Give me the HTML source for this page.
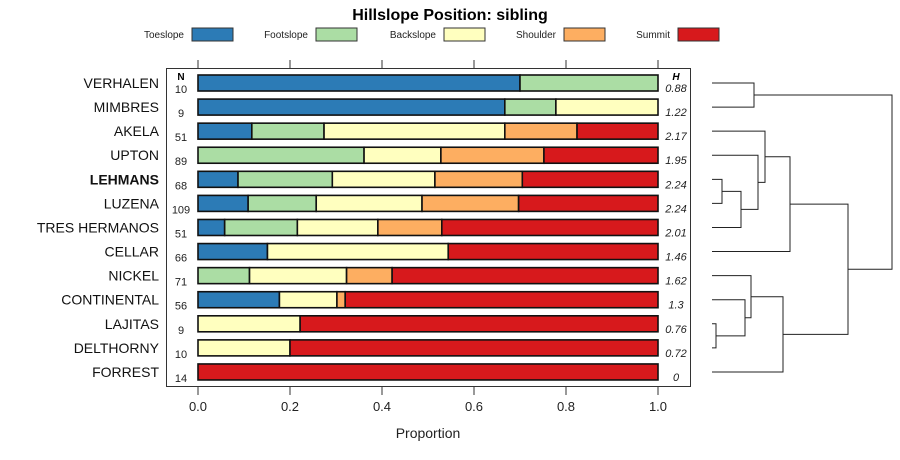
<!DOCTYPE html>
<html><head><meta charset="utf-8"><style>
body{margin:0;background:#fff}
svg{display:block;font-family:"Liberation Sans",sans-serif}
</style></head><body>
<svg id="chart" width="900" height="460"></svg>
<script>
const categories=["VERHALEN","MIMBRES","AKELA","UPTON","LEHMANS","LUZENA","TRES HERMANOS","CELLAR","NICKEL","CONTINENTAL","LAJITAS","DELTHORNY","FORREST"];
const seriesNames=["Toeslope","Footslope","Backslope","Shoulder","Summit"];
const colors=["#2C7BB6","#ABDDA4","#FFFFBF","#FDAE61","#D7191C"];
const toeslope=[0.70,0.667,0.117,0,0.087,0.109,0.058,0.151,0,0.177,0,0,0];
const footslope=[0.30,0.111,0.157,0.361,0.205,0.148,0.158,0,0.112,0,0,0,0];
const backslope=[0,0.222,0.393,0.167,0.223,0.230,0.175,0.393,0.211,0.125,0.222,0.2,0];
const shoulder=[0,0,0.157,0.224,0.190,0.210,0.139,0,0.099,0.018,0,0,0];
const summit=[0,0,0.176,0.248,0.295,0.303,0.470,0.456,0.578,0.680,0.778,0.8,1];
const nValues=["10","9","51","89","68","109","51","66","71","56","9","10","14"];
const hValues=["0.88","1.22","2.17","1.95","2.24","2.24","2.01","1.46","1.62","1.3","0.76","0.72","0"];
const xTicks=[0,0.2,0.4,0.6,0.8,1.0];
const xTickLabels=["0.0","0.2","0.4","0.6","0.8","1.0"];
// dendrogram merges: [childA, childB, height]; leaves are category indices, clusters are "c#"
const merges=[[4,5,0.10],[10,11,0.04],[0,1,0.42],["c0",6,0.29],["c1",9,0.33],["c4",8,0.39],["c3",3,0.46],["c6",2,0.53],["c5",12,0.71],["c7",7,0.78],["c9","c8",1.36],["c2","c10",1.80]];

const svg=document.getElementById('chart');
const NS='http://www.w3.org/2000/svg';
function mk(t,a,p){const e=document.createElementNS(NS,t);for(const k in a)e.setAttribute(k,a[k]);(p||svg).appendChild(e);return e;}
const x0=198,x1=658;
const xs=v=>x0+v*(x1-x0);
const yRow=i=>83+i*24.08;
const bh=16;

let t=mk('text',{x:450,y:20,'text-anchor':'middle','font-size':16,'font-weight':'bold'});t.textContent='Hillslope Position: sibling';



const legX=[192,316,444,564,678];
seriesNames.forEach((n,i)=>{
  const g=mk('g',{});
  
  
  const tx=mk('text',{x:legX[i]-8,y:38,'text-anchor':'end','font-size':10,fill:'#222'},g);tx.textContent=n;
  mk('rect',{x:legX[i],y:28,width:41,height:13,fill:colors[i],stroke:'#333','stroke-width':1},g);
});

// frame
const fr=mk('rect',{x:166.5,y:68.5,width:524,height:318,fill:'none',stroke:'#333','stroke-width':1});


xTicks.forEach((v,i)=>{
  const x=xs(v);
  mk('line',{x1:x,y1:60,x2:x,y2:68,stroke:'#333'});
  mk('line',{x1:x,y1:387,x2:x,y2:395,stroke:'#333'});
  const l=mk('text',{x:x,y:411,'text-anchor':'middle','font-size':13,fill:'#222'});l.textContent=xTickLabels[i];
  
  
});
t=mk('text',{x:428,y:438,'text-anchor':'middle','font-size':14,fill:'#222'});t.textContent='Proportion';



t=mk('text',{x:181,y:80,'text-anchor':'middle','font-size':10,'font-weight':'bold'});t.textContent='N';


t=mk('text',{x:676,y:80,'text-anchor':'middle','font-size':10,'font-weight':'bold','font-style':'italic'});t.textContent='H';



const series=[toeslope,footslope,backslope,shoulder,summit];
categories.forEach((c,i)=>{
  const y=yRow(i);
  const lab=mk('text',{x:159,y:y+5,'text-anchor':'end','font-size':14,fill:'#111','font-weight':c==='LEHMANS'?'bold':'normal'});lab.textContent=c;
  
  
  const n=mk('text',{x:181,y:y+10,'text-anchor':'middle','font-size':11,fill:'#222'});n.textContent=nValues[i];
  
  
  const h=mk('text',{x:676,y:y+9,'text-anchor':'middle','font-size':11,'font-style':'italic',fill:'#222'});h.textContent=hValues[i];
  
  
  let acc=0;
  series.forEach((s,k)=>{
    const v=s[i];if(v<=0)return;
    const r=mk('rect',{x:xs(acc),y:y-bh/2,width:xs(acc+v)-xs(acc),height:bh,fill:colors[k],stroke:'#111','stroke-width':1.6});
    
    
    acc+=v;
  });
});

// dendrogram
const dx0=712,dscale=(892-712)/1.80;
const nodes={};
categories.forEach((c,i)=>nodes[i]={y:yRow(i),h:0});
const dg=mk('g',{});


merges.forEach((m,j)=>{
  const a=nodes[m[0]],b=nodes[m[1]];
  const hx=dx0+m[2]*dscale;
  const ax=dx0+a.h*dscale,bx=dx0+b.h*dscale;
  mk('path',{d:`M${ax},${a.y}H${hx}V${b.y}H${bx}`,fill:'none',stroke:'#222','stroke-width':1},dg);
  nodes['c'+j]={y:(a.y+b.y)/2,h:m[2]};
});
</script>
</body></html>
